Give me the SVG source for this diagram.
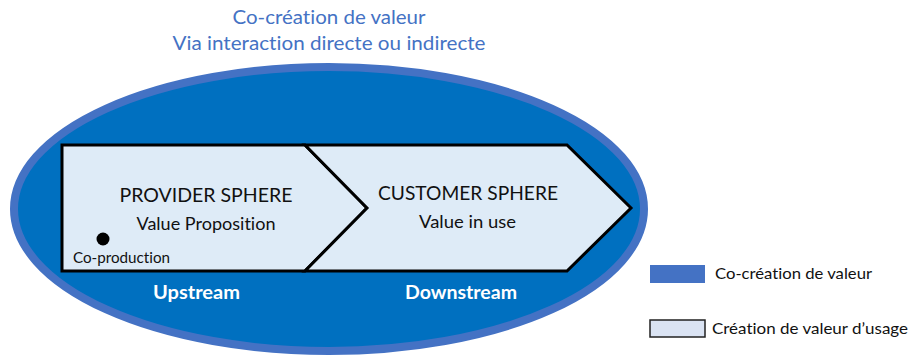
<svg xmlns="http://www.w3.org/2000/svg" width="912" height="356" viewBox="0 0 912 356">
<style>
  text { font-family: Lato, "Open Sans", "Liberation Sans", sans-serif; font-variant-ligatures: none; }
  .title { fill: #4472C4; font-size: 19.5px; text-anchor: middle; }
  .head { fill: #111; font-size: 19px; text-anchor: middle; }
  .sub { fill: #111; font-size: 17.5px; text-anchor: middle; }
  .small { fill: #111; font-size: 14.5px; }
  .stream { fill: #fff; font-size: 18px; font-weight: bold; text-anchor: middle; }
  .legend { fill: #111; font-size: 16px; }
  .sphere { fill: #DEEBF7; stroke: #000; stroke-width: 3; stroke-linejoin: miter; }
</style>
<rect width="912" height="356" fill="#fff"/>
<g id="titles">
  <text class="title" x="329" y="24" textLength="193" lengthAdjust="spacingAndGlyphs">Co-création de valeur</text>
  <text class="title" x="329" y="50" textLength="313" lengthAdjust="spacingAndGlyphs">Via interaction directe ou indirecte</text>
</g>
<g id="cocreation">
  <ellipse cx="329" cy="209" rx="315" ry="142" fill="#0070C0" stroke="#4472C4" stroke-width="8"/>
</g>
<g id="provider">
  <polygon class="sphere" points="62,145 305,145 367,208 305,271 62,271"/>
  <text class="head" x="206" y="202" textLength="173" lengthAdjust="spacingAndGlyphs">PROVIDER SPHERE</text>
  <text class="sub" x="206" y="230" textLength="139" lengthAdjust="spacingAndGlyphs">Value Proposition</text>
  <circle cx="103" cy="239" r="6.5" fill="#000"/>
  <text class="small" x="73" y="263" textLength="97" lengthAdjust="spacingAndGlyphs">Co-production</text>
</g>
<g id="customer">
  <polygon class="sphere" points="305,145 567,145 631,208 567,271 305,271 367,208"/>
  <text class="head" x="468" y="200" textLength="180" lengthAdjust="spacingAndGlyphs">CUSTOMER SPHERE</text>
  <text class="sub" x="467.5" y="228" textLength="97" lengthAdjust="spacingAndGlyphs">Value in use</text>
</g>
<g id="streams">
  <text class="stream" x="196.5" y="299" textLength="87" lengthAdjust="spacingAndGlyphs">Upstream</text>
  <text class="stream" x="461" y="299" textLength="112" lengthAdjust="spacingAndGlyphs">Downstream</text>
</g>
<g id="legend">
  <rect x="650" y="265" width="55" height="18" fill="#4472C4"/>
  <text class="legend" x="715" y="279" textLength="157" lengthAdjust="spacingAndGlyphs">Co-création de valeur</text>
  <rect x="650" y="320" width="55" height="17" fill="#DAE3F3" stroke="#222" stroke-width="1.5"/>
  <text class="legend" x="712" y="334" textLength="196" lengthAdjust="spacingAndGlyphs">Création de valeur d’usage</text>
</g>
<g id="connectors"></g>
</svg>
